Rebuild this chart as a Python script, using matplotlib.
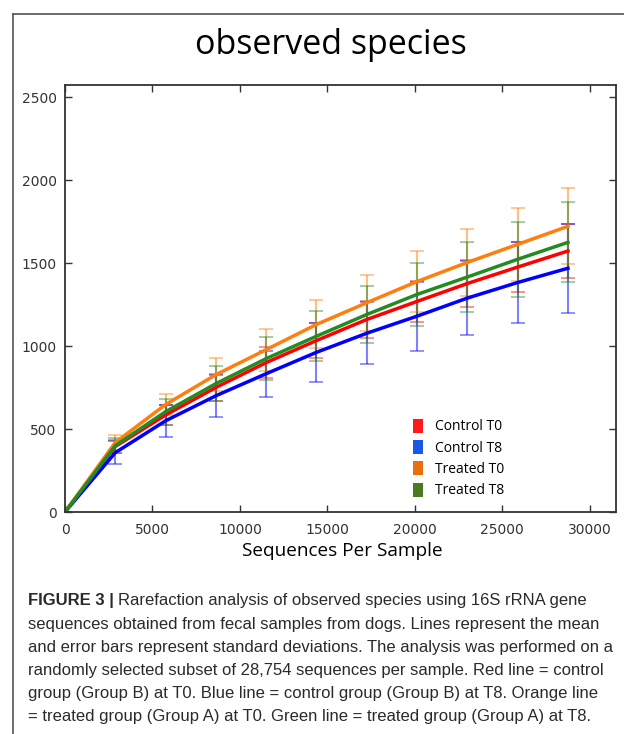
import numpy as np
import matplotlib
matplotlib.use("Agg")
import matplotlib.pyplot as plt
from matplotlib.patches import Patch
from matplotlib.lines import Line2D

# --- data ---
seqs = [0, 2875, 5751, 8626, 11502, 14377, 17252, 20128, 23003, 25879, 28754]

ctrl_t0 = [0, 395, 585, 751, 901, 1034, 1161, 1270, 1378, 1477, 1574]
ctrl_t0_sd = [0, 40, 59, 80, 95, 105, 113, 125, 143, 151, 160]

ctrl_t8 = [0, 358, 550, 701, 834, 963, 1078, 1181, 1290, 1384, 1470]
ctrl_t8_sd = [0, 70, 98, 127, 139, 177, 188, 209, 221, 244, 268]

trt_t0 = [0, 419, 648, 828, 979, 1131, 1262, 1390, 1505, 1614, 1723]
trt_t0_sd = [0, 47, 65, 99, 127, 145, 170, 182, 202, 218, 230]

trt_t8 = [0, 400, 605, 774, 925, 1060, 1191, 1312, 1417, 1524, 1626]
trt_t8_sd = [0, 45, 78, 105, 129, 152, 169, 189, 211, 225, 242]

labels = ["Control T0", "Control T8", "Treated T0", "Treated T8"]
line_colors = ["#ff0000", "#0000ff", "#ff7f0e", "#228b22"]
legend_colors = ["#ff1a1a", "#1a56e8", "#e8700e", "#4a7a22"]

caption_lines = [
    "Rarefaction analysis of observed species using 16S rRNA gene",
    "sequences obtained from fecal samples from dogs. Lines represent the mean",
    "and error bars represent standard deviations. The analysis was performed on a",
    "randomly selected subset of 28,754 sequences per sample. Red line = control",
    "group (Group B) at T0. Blue line = control group (Group B) at T8. Orange line",
    "= treated group (Group A) at T0. Green line = treated group (Group A) at T8.",
]

fig = plt.figure(figsize=(6.24, 7.34), dpi=100)
ax = fig.add_axes([65/624, 1 - 512/734, (616-65)/624, (512-85)/734])

means = [ctrl_t0, ctrl_t8, trt_t0, trt_t8]
sds = [ctrl_t0_sd, ctrl_t8_sd, trt_t0_sd, trt_t8_sd]

# error bars first (faded), then the mean lines
for m, s, c in zip(means, sds, line_colors):
    ax.errorbar(seqs, m, yerr=s, fmt="none", ecolor=c, elinewidth=1.5,
                capsize=5, capthick=1.2, alpha=0.5)
for m, c in zip(means, line_colors):
    ax.plot(seqs, m, color=c, linewidth=2.5)

ax.set_xlim(0, 31500)
ax.set_ylim(0, 2575)
ax.set_xticks([0, 5000, 10000, 15000, 20000, 25000, 30000])
ax.set_yticks([0, 500, 1000, 1500, 2000, 2500])
ax.tick_params(direction="in", top=True, right=True, length=5, width=1,
               labelsize=10, labelcolor="#333333", color="#333333")
ax.tick_params(axis="y", pad=6)
ax.tick_params(axis="x", pad=8)
for sp in ax.spines.values():
    sp.set_color("#333333")
    sp.set_linewidth(1.3)

handles = [Patch(facecolor=c, edgecolor="none") for c in legend_colors]
ax.legend(handles, labels, loc="upper left", bbox_to_anchor=(400/624, 1 - 406/734),
          bbox_transform=fig.transFigure, frameon=False, handlelength=0.75,
          handleheight=1.2, handletextpad=0.9, labelspacing=0.4,
          prop={"family": "Open Sans", "size": 10})

fig.text(331/624, 1 - 45/734, "observed species", ha="center", va="center",
         fontsize=24.5, family="Open Sans")
fig.text(342/624, 1 - 551/734, "Sequences Per Sample", ha="center", va="center",
         fontsize=13.7, family="Open Sans")

# frame lines of the figure panel
fig.add_artist(Line2D([13/624, 1], [1 - 14/734, 1 - 14/734], color="#555555", lw=1.2))
fig.add_artist(Line2D([13/624, 13/624], [0, 1 - 14/734], color="#555555", lw=1.2))

# caption
y0 = 601
fsz = 11.95
fig.text(28/624, 1 - y0/734, "FIGURE 3 |", ha="left", va="center", fontsize=fsz,
         family="Liberation Sans", weight="bold", color="#2a2a2a")
fig.text(118/624, 1 - y0/734, caption_lines[0], ha="left", va="center", fontsize=fsz,
         family="Liberation Sans", color="#2a2a2a")
for i, line in enumerate(caption_lines[1:], start=1):
    fig.text(28/624, 1 - (y0 + 23.2*i)/734, line, ha="left", va="center", fontsize=fsz,
             family="Liberation Sans", color="#2a2a2a")

fig.savefig("out.png", dpi=100)
